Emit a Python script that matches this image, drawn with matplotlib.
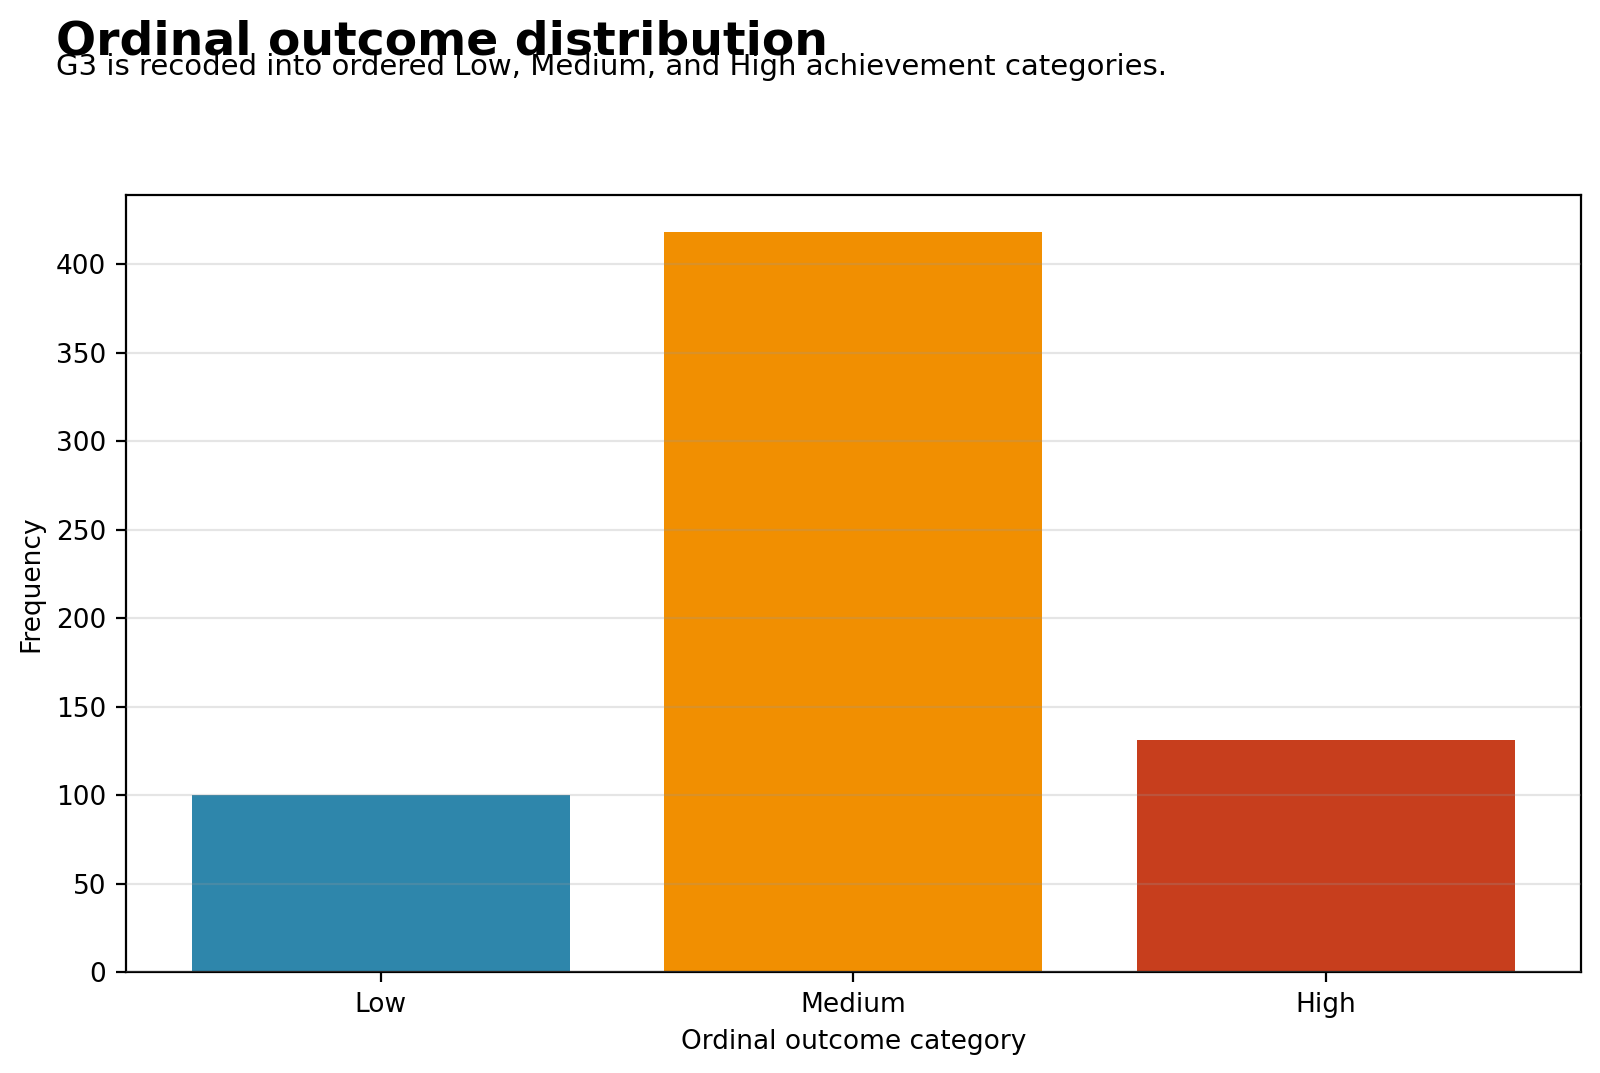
import matplotlib
matplotlib.use("Agg")
import matplotlib.pyplot as plt

categories = ["Low", "Medium", "High"]
counts = [100, 418, 131]
bar_colors = ["#2E86AB", "#F18F01", "#C73E1D"]

fig = plt.figure(figsize=(8, 5.365), dpi=200)
ax = fig.add_axes([0.0785, 0.094, 0.9095, 0.724])

ax.bar(categories, counts, color=bar_colors, width=0.8)
ax.grid(axis="y", color="#999999", linewidth=0.8, alpha=0.25)
ax.set_axisbelow(False)
ax.set_xlabel("Ordinal outcome category", fontsize=9.5)
ax.set_ylabel("Frequency", fontsize=9.5)
ax.tick_params(labelsize=9.5)

fig.text(0.035, 0.949, "Ordinal outcome distribution", fontsize=17,
         fontweight="bold", ha="left", va="baseline")
fig.text(0.035, 0.93, "G3 is recoded into ordered Low, Medium, and High achievement categories.",
         fontsize=10.5, ha="left", va="baseline")

fig.savefig("out.png", dpi=200)
plt.close(fig)
